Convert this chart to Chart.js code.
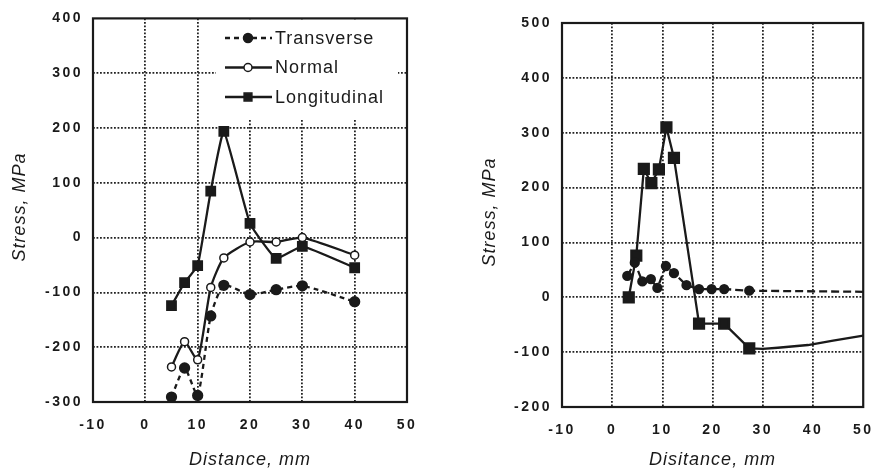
<!DOCTYPE html>
<html>
<head>
<meta charset="utf-8">
<script src="https://cdn.jsdelivr.net/npm/chart.js@4.4.1/dist/chart.umd.min.js"></script>
<style>
    body { margin: 0; background: #fff; }
    .painel { position: absolute; top: 0; width: 443px; height: 472px; }
    #painelEsq { left: 0; }
    #painelDir { left: 443px; }
</style>
</head>
<body>
<div class="painel" id="painelEsq"><canvas id="graficoEsq" width="443" height="472"></canvas></div>
<div class="painel" id="painelDir"><canvas id="graficoDir" width="443" height="472"></canvas></div>
<script>
// ---- left panel: three stress components ----
const distEsq = [5, 7.5, 10, 12.5, 15, 20, 25, 30, 40];
const transverseEsq = [-291, -238, -288, -143, -87, -104, -95, -88, -117];
const normalEsq = [-236, -190, -223, -91, -37, -8, -8, 0, -32];
const longitudinalEsq = [-124, -82, -51, 85, 194, 26, -38, -16, -55];
const nomesEsq = ['Transverse', 'Normal', 'Longitudinal'];

// ---- right panel ----
const distLongDir = [3.3, 4.8, 6.3, 7.8, 9.3, 10.8, 12.3, 17.3, 22.3, 27.3, 30, 33, 39, 44, 50];
const longitudinalDir = [0, 76, 234, 208, 233, 310, 254, -48, -48, -93, -94, -92, -87, -79, -70];
const marcadosLongDir = 10; // the tail after 27 mm has no markers

const distTransDir = [3, 4.5, 6, 7.7, 9, 10.7, 12.3, 14.8, 17.3, 19.8, 22.3, 27.3, 50];
const transverseDir = [39, 63, 29, 33, 17, 57, 44, 22, 15, 15, 15, 12, 10];
const marcadosTransDir = 12;

const ticksX = [-10, 0, 10, 20, 30, 40, 50];
const limitesYEsq = [-300, 400];
const limitesYDir = [-200, 500];

const corTinta = '#1a1a1a';
const fonte = '"Liberation Sans", Arial, Helvetica, sans-serif';

function pontos(xs, ys) {
    return xs.map(function (x, i) {
        return { x: x, y: ys[i] };
    });
}

function eixos(limitesY, larguraY, alturaX) {
    function corGrade(min, max) {
        return function (c) {
            if (c.tick && (c.tick.value === min || c.tick.value === max)) {
                return 'rgba(0,0,0,0)';
            }
            return '#222';
        };
    }
    const fonteTicks = { family: fonte, size: 14, weight: 'bold' };
    return {
        x: {
            type: 'linear',
            min: ticksX[0],
            max: ticksX[ticksX.length - 1],
            afterBuildTicks: function (s) { s.ticks = ticksX.map(v => ({ value: v })); },
            ticks: { padding: 15, color: corTinta, font: fonteTicks, maxRotation: 0 },
            grid: { color: corGrade(ticksX[0], ticksX[ticksX.length - 1]), lineWidth: 1.8, drawTicks: false },
            border: { display: false, dash: [1.8, 1.7] },
            afterFit: function (s) { s.height = alturaX; }
        },
        y: {
            min: limitesY[0],
            max: limitesY[1],
            ticks: { stepSize: 100, padding: 10, color: corTinta, font: fonteTicks },
            grid: { color: corGrade(limitesY[0], limitesY[1]), lineWidth: 1.8, drawTicks: false },
            border: { display: false, dash: [1.8, 1.7] },
            afterFit: function (s) { s.width = larguraY; }
        }
    };
}

// frame, axis titles and (optionally) the legend box
function pluginMoldura(info) {
    return {
        id: 'moldura',
        beforeDraw: function (chart) {
            chart.ctx.letterSpacing = '2.5px';
        },
        afterDraw: function (chart) {
            const ctx = chart.ctx;
            const a = chart.chartArea;
            ctx.save();
            ctx.letterSpacing = '1px';

            if (info.legenda) {
                const L = info.legenda;
                ctx.fillStyle = '#fff';
                ctx.fillRect(L.x, a.top + 1, L.w, L.h);
                chart.data.datasets.forEach(function (ds, i) {
                    const y = L.y0 + i * L.passo;
                    ctx.strokeStyle = corTinta;
                    ctx.lineWidth = 2.3;
                    ctx.setLineDash(ds.borderDash || []);
                    ctx.beginPath();
                    ctx.moveTo(L.x + 9, y);
                    ctx.lineTo(L.x + 56, y);
                    ctx.stroke();
                    ctx.setLineDash([]);
                    ctx.fillStyle = ds.pointBackgroundColor;
                    ctx.lineWidth = 1.5;
                    Chart.helpers.drawPoint(ctx, {
                        pointStyle: ds.pointStyle,
                        radius: ds.legendaRaio,
                        rotation: 0,
                        borderWidth: 1.5
                    }, L.x + 32, y);
                    ctx.fillStyle = corTinta;
                    ctx.font = '18px ' + fonte;
                    ctx.textAlign = 'left';
                    ctx.textBaseline = 'middle';
                    ctx.fillText(ds.label, L.x + 59, y + 1);
                });
            }

            ctx.setLineDash([]);
            ctx.strokeStyle = corTinta;
            ctx.lineWidth = 2.2;
            ctx.strokeRect(a.left, a.top, a.right - a.left, a.bottom - a.top);

            ctx.fillStyle = corTinta;
            ctx.font = 'italic 18px ' + fonte;
            ctx.textAlign = 'center';
            ctx.textBaseline = 'middle';
            ctx.fillText(info.tituloX, (a.left + a.right) / 2, info.yTituloX);
            ctx.translate(info.xTituloY, info.yTituloY);
            ctx.rotate(-Math.PI / 2);
            ctx.fillText(info.tituloY, 0, 0);
            ctx.restore();
            ctx.letterSpacing = '0px';
        }
    };
}

function plotarEsquerda() {
    const config = {
        type: 'line',
        data: {
            datasets: [{
                label: nomesEsq[0],
                data: pontos(distEsq, transverseEsq),
                borderColor: corTinta,
                borderWidth: 2.3,
                borderDash: [5, 4],
                tension: 0.2,
                pointStyle: 'circle',
                pointRadius: 4.5,
                legendaRaio: 4.5,
                pointBackgroundColor: corTinta,
                pointBorderColor: corTinta
            }, {
                label: nomesEsq[1],
                data: pontos(distEsq, normalEsq),
                borderColor: corTinta,
                borderWidth: 2.3,
                tension: 0.2,
                pointStyle: 'circle',
                pointRadius: 4,
                legendaRaio: 4,
                pointBorderWidth: 1.5,
                pointBackgroundColor: '#fff',
                pointBorderColor: corTinta
            }, {
                label: nomesEsq[2],
                data: pontos(distEsq, longitudinalEsq),
                borderColor: corTinta,
                borderWidth: 2.3,
                tension: 0.12,
                pointStyle: 'rect',
                pointRadius: 6,
                legendaRaio: 5.5,
                pointBackgroundColor: corTinta,
                pointBorderColor: corTinta
            }]
        },
        options: {
            responsive: false,
            animation: false,
            layout: { padding: { left: 0, top: 17, right: 36, bottom: 0 } },
            plugins: { legend: { display: false }, tooltip: { enabled: false } },
            scales: eixos(limitesYEsq, 93, 70)
        },
        plugins: [pluginMoldura({
            tituloX: 'Distance, mm', yTituloX: 460,
            tituloY: 'Stress, MPa', xTituloY: 20, yTituloY: 207,
            legenda: { x: 216, w: 182, h: 100, y0: 38, passo: 29.5 }
        })]
    };
    new Chart(document.getElementById('graficoEsq'), config);
}

function plotarDireita() {
    const config = {
        type: 'line',
        data: {
            datasets: [{
                label: 'Transverse',
                data: pontos(distTransDir, transverseDir),
                borderColor: corTinta,
                borderWidth: 2.3,
                borderDash: [8, 4],
                pointStyle: 'circle',
                pointRadius: c => c.dataIndex < marcadosTransDir ? 4 : 0,
                pointBackgroundColor: corTinta,
                pointBorderColor: corTinta
            }, {
                label: 'Longitudinal',
                data: pontos(distLongDir, longitudinalDir),
                borderColor: corTinta,
                borderWidth: 2.3,
                pointStyle: 'rect',
                pointRadius: c => c.dataIndex < marcadosLongDir ? 7 : 0,
                pointBackgroundColor: corTinta,
                pointBorderColor: corTinta
            }]
        },
        options: {
            responsive: false,
            animation: false,
            layout: { padding: { left: 30, top: 23, right: 10, bottom: 0 } },
            plugins: { legend: { display: false }, tooltip: { enabled: false } },
            scales: eixos(limitesYDir, 89, 65)
        },
        plugins: [pluginMoldura({
            tituloX: 'Disitance, mm', yTituloX: 460,
            tituloY: 'Stress, MPa', xTituloY: 47, yTituloY: 212
        })]
    };
    new Chart(document.getElementById('graficoDir'), config);
}

plotarEsquerda();
plotarDireita();
</script>
</body>
</html>
